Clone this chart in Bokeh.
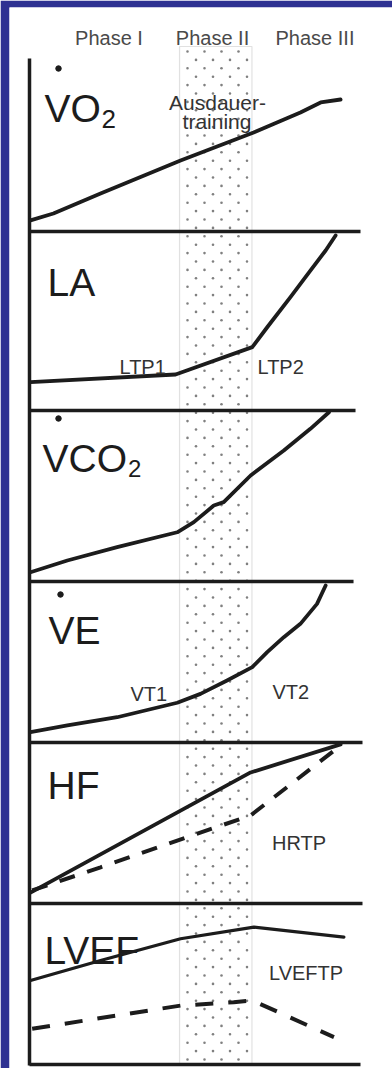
from bokeh.plotting import figure
from bokeh.models import Range1d, BoxAnnotation, Label
from bokeh.embed import file_html
from bokeh.resources import INLINE

# ---------------- data ----------------
# x: load in % of the axis length, y: value in % of each panel's height
phase_labels = ["Phase I", "Phase II", "Phase III"]
band_label = ["Ausdauer-", "training"]
band_x = [45.2, 67.0]          # endurance-training zone (Phase II)

panel_labels = ["VO", "LA", "VCO", "VE", "HF", "LVEF"]
threshold_labels = ["LTP1", "LTP2", "VT1", "VT2", "HRTP", "LVEFTP"]

vo2_x = [0.3, 7.2, 21.4, 45.5, 67.5, 81.6, 87.7, 93.7]
vo2_y = [6.4, 10.4, 22.0, 41.0, 57.2, 68.8, 74.6, 76.3]

la_x = [0.3, 44.0, 67.1, 71.6, 78.6, 84.6, 89.2, 92.2]
la_y = [15.8, 20.1, 35.4, 46.5, 63.3, 78.2, 89.4, 97.8]

vco2_x = [0.3, 11.4, 26.4, 44.5, 49.5, 55.5, 58.5, 66.6, 76.6, 84.6, 90.2]
vco2_y = [5.4, 12.3, 20.1, 28.8, 34.7, 44.4, 46.4, 62.0, 76.6, 89.3, 99.0]

ve_x = [0.3, 11.4, 26.4, 44.5, 51.5, 59.5, 67.1, 71.6, 76.6, 81.6, 86.6, 89.2]
ve_y = [6.4, 10.6, 15.7, 24.7, 30.2, 38.5, 46.8, 56.1, 65.4, 73.7, 86.1, 97.5]

hf_x = [0.3, 66.6, 93.7]
hf_y = [6.8, 81.4, 98.8]
hf_dash_x = [0.8, 21.4, 44.5, 66.6, 93.7]
hf_dash_y = [8.1, 22.5, 39.1, 54.7, 98.1]

lvef_x = [0.3, 21.4, 45.5, 67.6, 94.7]
lvef_y = [52.2, 64.6, 78.1, 85.3, 79.1]
lvef_dash_x = [0.8, 45.5, 61.5, 67.1, 91.7]
lvef_dash_y = [22.2, 36.6, 38.7, 39.8, 17.0]

# ---------------- layout (reference pixel positions) ----------------
FIG_W, FIG_H = 392, 1068
BORDER_L, BORDER_T = 9, 7          # dark blue frame of the slide
AXIS_PX, FULL_PX = 29, 361
UNIT = (FULL_PX - AXIS_PX) / 100.0


def X(px):
    return (px - AXIS_PX) / UNIT


panel_px = [(58, 231), (231, 410), (410, 581), (581, 742), (742, 903), (903, 1064)]
sep_end = [99.7, 98.2, 97.6, 100.3, 100.3, 99.7]

INK = "#1c1c1c"
BLUE = "#2E3192"

p = figure(width=FIG_W, height=FIG_H,
           x_range=Range1d(X(BORDER_L), X(FIG_W)),
           y_range=Range1d(FIG_H, BORDER_T),
           x_axis_type=None, y_axis_type=None,
           output_backend="svg", toolbar_location=None,
           min_border_left=BORDER_L, min_border_top=BORDER_T,
           min_border_right=0, min_border_bottom=0)
p.grid.visible = False
p.outline_line_color = None
p.background_fill_color = "white"
p.border_fill_color = BLUE

for i, (top, bot) in enumerate(panel_px):
    s = 100.0 / (bot - top)
    p.extra_y_ranges[f"p{i}"] = Range1d(start=-(FIG_H - bot) * s,
                                        end=100 + (top - BORDER_T) * s)

# Phase II band: outline + staggered dot texture
band = BoxAnnotation(left=band_x[0], right=band_x[1], top=46, bottom=1064,
                     fill_alpha=0, line_color="#9c9c9c", line_width=1.2,
                     level="underlay")
p.add_layout(band)

tex_x, tex_y = [], []
row = 0
yy = 51.0
while yy < 1062:
    off = 0.0 if row % 2 == 0 else 8.5
    for k in range(4):
        tex_x.append(X(187.0 + off + 17.0 * k))
        tex_y.append(yy)
    yy += 8.4
    row += 1
p.scatter(tex_x, tex_y, size=2.6, color="#808080", line_color=None)

# axes frame
p.segment(x0=[0], y0=[58], x1=[0], y1=[1065], line_width=3.5, color=INK)
for i in range(6):
    p.segment(x0=[0], y0=[0], x1=[sep_end[i]], y1=[0], y_range_name=f"p{i}",
              line_width=3.5, color=INK)

# curves
solid = dict(line_width=3.8, color=INK, line_cap="round", line_join="round")
p.line(vo2_x, vo2_y, y_range_name="p0", **solid)
p.line(la_x, la_y, y_range_name="p1", **solid)
p.line(vco2_x, vco2_y, y_range_name="p2", **solid)
p.line(ve_x, ve_y, y_range_name="p3", **solid)
p.line(hf_x, hf_y, y_range_name="p4", **solid)
p.line(hf_dash_x, hf_dash_y, y_range_name="p4", line_width=4, color=INK,
       line_dash="16 13")
p.line(lvef_x, lvef_y, y_range_name="p5", line_width=3.2, color=INK,
       line_cap="round", line_join="round")
p.line(lvef_dash_x, lvef_dash_y, y_range_name="p5", line_width=4, color=INK,
       line_dash="18 15")

FONT = "Liberation Sans"


def label(px, py, text, size, color=INK, align="left"):
    p.add_layout(Label(x=X(px), y=py, text=text, text_font=FONT,
                       text_font_size=f"{size}px", text_color=color,
                       text_align=align, text_baseline="alphabetic"))


# header
for cx, t in zip([108.5, 212, 314.5], phase_labels):
    label(cx, 37, t, 20, color="#4a4a4a", align="center")
label(217, 102, band_label[0], 21, color="#333333", align="center")
label(216.5, 121, band_label[1], 21, color="#333333", align="center")

# panel labels
BIG = 39
label(44, 108, panel_labels[0], BIG)
label(101, 118, "2", 26)
label(47, 282, panel_labels[1], BIG)
label(42, 458, panel_labels[2], BIG)
label(127.5, 468, "2", 24)
label(48, 630, panel_labels[3], BIG)
label(47, 785, panel_labels[4], BIG)
label(44, 950, panel_labels[5], BIG)
# dots above V
p.scatter([X(58), X(58), X(60)], [68, 418, 594], size=5.5, color=INK)

# threshold labels
SMALL = 20
GREY = "#333333"
label(119, 366, threshold_labels[0], SMALL, GREY)
label(257, 366, threshold_labels[1], SMALL, GREY)
label(130, 693, threshold_labels[2], SMALL, GREY)
label(272, 691, threshold_labels[3], SMALL, GREY)
label(271.5, 842, threshold_labels[4], SMALL, GREY)
label(268.5, 972, threshold_labels[5], SMALL, GREY)

open("out.html", "w").write(file_html(p, INLINE))
